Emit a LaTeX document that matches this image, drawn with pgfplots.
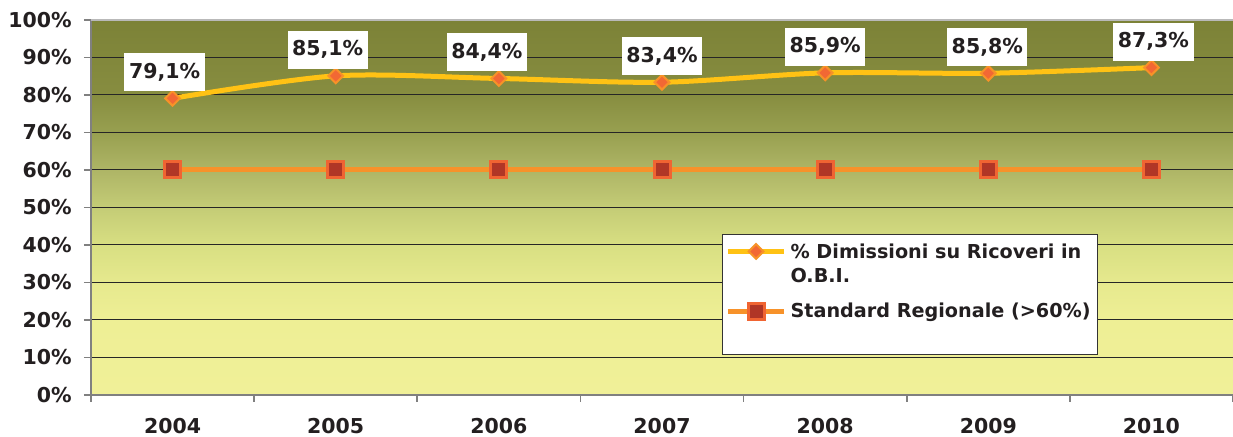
\documentclass[border=0pt]{standalone}
\usepackage{fontspec}
\setmainfont{DejaVu Sans}
\usepackage{pgfplots}
\pgfplotsset{compat=1.18}

% colori
\definecolor{linea}{RGB}{255,194,20}
\definecolor{diafill}{RGB}{242,104,52}
\definecolor{diadraw}{RGB}{247,146,40}
\definecolor{lineb}{RGB}{247,146,42}
\definecolor{sqfill}{RGB}{176,54,38}
\definecolor{sqdraw}{RGB}{240,100,50}
\definecolor{testo}{RGB}{35,31,32}
\definecolor{assi}{RGB}{128,128,128}

\definecolor{g0}{HTML}{F0F098}
\definecolor{g2}{HTML}{EEEF95}
\definecolor{g3}{HTML}{E6E98E}
\definecolor{g4}{HTML}{D8DF82}
\definecolor{g5}{HTML}{C4CC76}
\definecolor{g6}{HTML}{AEB566}
\definecolor{g7}{HTML}{98A050}
\definecolor{g8}{HTML}{878D40}
\definecolor{g10}{HTML}{7C8237}

\pgfdeclareverticalshading{sfondo}{100bp}{color(0bp)=(g0); color(25bp)=(g0);
  color(35bp)=(g2); color(40bp)=(g3); color(45bp)=(g4); color(50bp)=(g5);
  color(55bp)=(g6); color(60bp)=(g7); color(65bp)=(g8); color(75bp)=(g10);
  color(100bp)=(g10)}

% dx = spostamento orizzontale dell'etichetta (pt)
\pgfplotstableread{
x y dx
0 79.1 -4
1 85.1 -4
2 84.4 -6
3 83.4 0
4 85.9 0
5 85.8 -0.5
6 87.3 1
}\dimissioni

\pgfplotstableread{
x y
0 60
1 60
2 60
3 60
4 60
5 60
6 60
}\standard

\begin{document}
\begin{tikzpicture}
\begin{axis}[
  name=ax,
  scale only axis, width=571pt, height=187.5pt,
  xmin=-0.5, xmax=6.5, ymin=0, ymax=100,
  axis background/.style={shading=sfondo},
  axis x line*=bottom, axis y line*=left,
  xtick={0,...,6},
  xticklabels={2004,2005,2006,2007,2008,2009,2010},
  minor xtick={-0.5,0.5,...,6.5},
  ytick={0,10,...,100},
  yticklabels={0\%,10\%,20\%,30\%,40\%,50\%,60\%,70\%,80\%,90\%,100\%},
  ymajorgrids,
  grid style={draw=black!85, line width=0.5pt},
  tick align=outside,
  major tick length=3.5pt, minor tick length=3.5pt,
  major x tick style={draw=none},
  tick style={draw=assi, line width=0.8pt},
  axis line style={draw=assi, line width=1pt, -},
  tick label style={font=\fontsize{10.25}{12}\selectfont\bfseries, text=testo},
  yticklabel style={xshift=-2.6pt},
  xticklabel style={yshift=-4.5pt},
  clip=false,
  legend style={at={(0.5525,0.429)}, anchor=north west,
    draw=black!80, line width=0.6pt, fill=white,
    font=\fontsize{9.6}{12.5}\selectfont\bfseries, text=testo,
    cells={anchor=base west},
    inner xsep=1.5pt, inner ysep=1pt, row sep=7pt},
  legend image code/.code={\draw[mark repeat=2, mark phase=2]
    plot coordinates {(0pt,3.4pt) (14pt,3.4pt) (28pt,3.4pt)};},
]

\addplot[linea, line width=2.5pt, smooth,
  mark=square*, mark size=2.6pt,
  mark options={rotate=45, fill=diafill, draw=diadraw, line width=1pt, solid},
  point meta=y,
  visualization depends on={\thisrow{dx} \as \dx},
  nodes near coords={\pgfmathprintnumber[fixed,fixed zerofill,precision=1,use comma,assume math mode=true]{\pgfplotspointmeta}\%},
  nodes near coords style={text=testo, fill=white, draw=none, anchor=south,
    font=\fontsize{10.25}{12}\selectfont\bfseries,
    text height=7.5pt, text depth=1.5pt, inner ysep=5pt, inner xsep=2.3pt,
    yshift=3pt, xshift=\dx pt},
] table[x=x, y=y] {\dimissioni};
\addlegendentry[text depth=11.5pt]{\begin{tabular}[t]{@{}l@{}}\% Dimissioni su Ricoveri in\\[-0.5pt]O.B.I.\end{tabular}}

\addplot[lineb, line width=2.5pt,
  mark=square*, mark size=4pt,
  mark options={fill=sqfill, draw=sqdraw, line width=1.5pt},
] table[x=x, y=y] {\standard};
\addlegendentry[text depth=15.5pt]{Standard Regionale (>60\%)}

\end{axis}
\draw[gray!55, line width=1pt] (ax.north west) -- (ax.north east);
\pgfresetboundingbox
\path[use as bounding box] ([shift={(-45.5pt,-21pt)}]ax.south west)
  rectangle ([shift={(0pt,10pt)}]ax.north east);
\end{tikzpicture}
\end{document}
